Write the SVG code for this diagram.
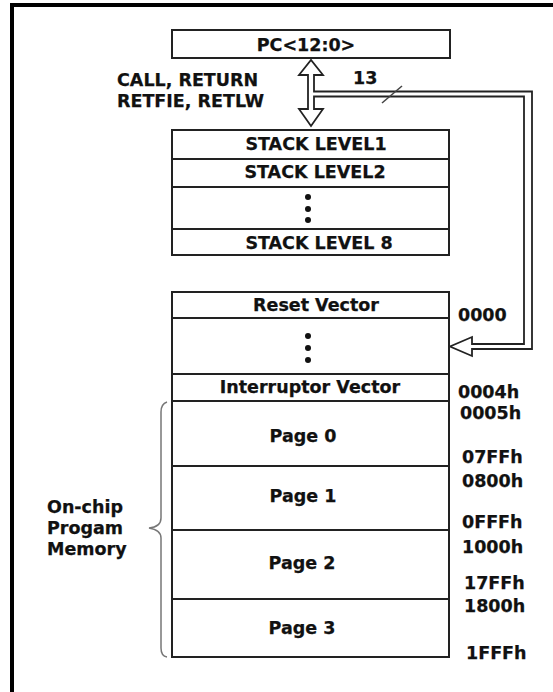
<svg xmlns="http://www.w3.org/2000/svg" width="553" height="692" viewBox="0 0 553 692">
<style>
  .box{fill:#fff;stroke:#222;stroke-width:2}
  .sep{stroke:#222;stroke-width:2}
  .t{font-family:"DejaVu Sans","Liberation Sans",sans-serif;font-weight:bold;font-size:17.5px;fill:#111;stroke:#111;stroke-width:0.25}
  .c{text-anchor:middle}
  .bus{fill:#fff;stroke:#222;stroke-width:1.8;stroke-linejoin:miter}
  .dot{fill:#111}
</style>
<rect width="553" height="692" fill="#fff"/>
<g id="frame">
  <rect x="10" y="3" width="543" height="4" fill="#000"/>
  <rect x="10" y="3" width="4" height="689" fill="#000"/>
</g>
<g id="pc">
  <rect class="box" x="172" y="30" width="278" height="28"/>
  <text class="t c" x="306" y="51" font-family="Liberation Sans, Arial, sans-serif">PC&lt;12:0&gt;</text>
</g>
<g id="ops">
  <text class="t" x="117" y="86">CALL, RETURN</text>
  <text class="t" x="117" y="107">RETFIE, RETLW</text>
</g>
<g id="connectors">
  <path class="bus" d="M314,91.5 L314,75 L323,75 L311,60 L299,75 L308,75 L308,109 L299,109 L311,126 L323,109 L314,109 L314,96.5 L524,96.5 L524,344 L472,344 L472,337 L450,346.5 L472,356 L472,349 L532,349 L532,91.5 Z"/>
  <line x1="382" y1="103" x2="402" y2="86" stroke="#444" stroke-width="1.5"/>
  <text class="t" x="353" y="84">13</text>
</g>
<g id="stack">
  <rect class="box" x="172" y="130" width="277" height="125"/>
  <line class="sep" x1="172" y1="159" x2="449" y2="159"/>
  <line class="sep" x1="172" y1="187" x2="449" y2="187"/>
  <line class="sep" x1="172" y1="229" x2="449" y2="229"/>
  <text class="t c" x="316" y="150">STACK LEVEL1</text>
  <text class="t c" x="315" y="178">STACK LEVEL2</text>
  <circle class="dot" cx="308" cy="197" r="3"/>
  <circle class="dot" cx="308" cy="209" r="3"/>
  <circle class="dot" cx="308" cy="220" r="3"/>
  <text class="t c" x="319" y="249">STACK LEVEL 8</text>
</g>
<g id="memory">
  <rect class="box" x="172" y="292" width="277" height="365"/>
  <line class="sep" x1="172" y1="318" x2="449" y2="318"/>
  <line class="sep" x1="172" y1="374" x2="449" y2="374"/>
  <line class="sep" x1="172" y1="401" x2="449" y2="401"/>
  <line class="sep" x1="172" y1="466" x2="449" y2="466"/>
  <line class="sep" x1="172" y1="530" x2="449" y2="530"/>
  <line class="sep" x1="172" y1="599" x2="449" y2="599"/>
  <text class="t c" x="316" y="311">Reset Vector</text>
  <circle class="dot" cx="308" cy="336" r="3"/>
  <circle class="dot" cx="308" cy="348" r="3"/>
  <circle class="dot" cx="308" cy="360" r="3"/>
  <text class="t c" x="310" y="393">Interruptor Vector</text>
  <text class="t c" x="303" y="442">Page 0</text>
  <text class="t c" x="303" y="502">Page 1</text>
  <text class="t c" x="302" y="569">Page 2</text>
  <text class="t c" x="302" y="634">Page 3</text>
</g>
<g id="addresses">
  <text class="t" x="458" y="321">0000</text>
  <text class="t" x="458" y="398">0004h</text>
  <text class="t" x="460" y="419">0005h</text>
  <text class="t" x="462" y="463">07FFh</text>
  <text class="t" x="462" y="487">0800h</text>
  <text class="t" x="462" y="528">0FFFh</text>
  <text class="t" x="462" y="553">1000h</text>
  <text class="t" x="464" y="589">17FFh</text>
  <text class="t" x="464" y="612">1800h</text>
  <text class="t" x="466" y="659">1FFFh</text>
</g>
<g id="brace">
  <path d="M167,402 Q161,404 161,412 L161,518 Q161,527 149,528 Q161,530 161,538 L161,648 Q161,656 167,657" fill="none" stroke="#777" stroke-width="1.5"/>
  <text class="t" x="47" y="513">On-chip</text>
  <text class="t" x="47" y="534">Progam</text>
  <text class="t" x="47" y="555">Memory</text>
</g>
</svg>
